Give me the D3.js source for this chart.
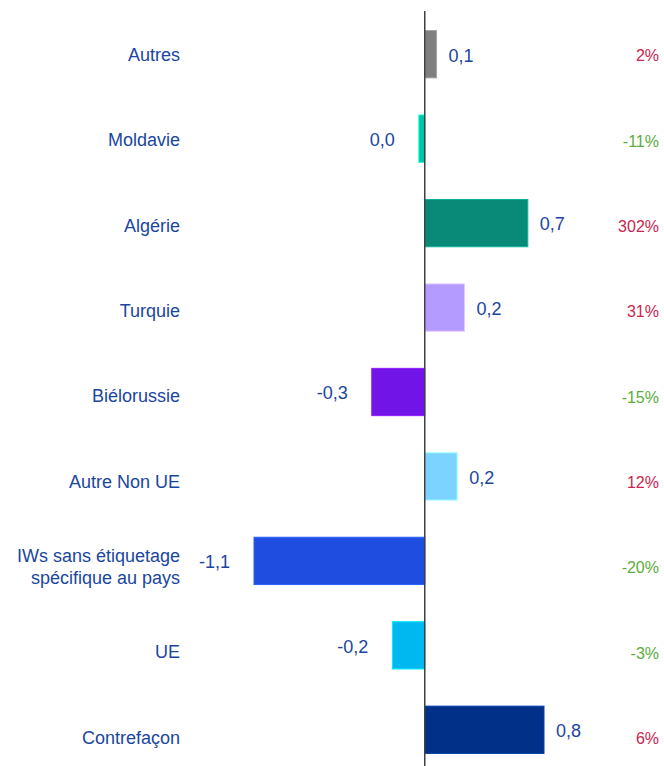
<!DOCTYPE html>
<html lang="fr">
<head>
<meta charset="utf-8" />
<title>Contributions</title>
<script src="https://d3js.org/d3.v7.min.js"></script>
<style>
  body { margin: 0; background: #fff; }
  text { font-family: "Liberation Sans", Arial, sans-serif; }
</style>
</head>
<body>
<div id="chart"></div>
<script>
// data
var categories = ["Autres", "Moldavie", "Algérie", "Turquie", "Biélorussie", "Autre Non UE",
  "IWs sans étiquetage|spécifique au pays", "UE", "Contrefaçon"];
var values = [0.08, -0.04, 0.70, 0.27, -0.36, 0.22, -1.16, -0.22, 0.81];
var valueLabels = ["0,1", "0,0", "0,7", "0,2", "-0,3", "0,2", "-1,1", "-0,2", "0,8"];
var pctLabels = ["2%", "-11%", "302%", "31%", "-15%", "12%", "-20%", "-3%", "6%"];
var barColors = ["#7f7f7f", "#00c4a7", "#098a79", "#b49bff", "#7014e8", "#7dd3ff", "#1f4de0", "#00b8f0", "#003087"];

var width = 664, height = 766;
var textBlue = "#1a46a0", red = "#c8254f", green = "#5aae3a";

var svg = d3.select("#chart").append("svg")
  .attr("width", width)
  .attr("height", height);

// scales
var x = d3.scaleLinear().domain([-1.16, 0.81]).range([254, 544]);
var y = d3.scaleBand().domain(categories).range([12, 772]).paddingInner(0.44).paddingOuter(0.22);
var yLab = d3.scaleBand().domain(categories).range([12, 780]);

// bars
svg.selectAll(".bar")
  .data(values)
  .enter()
  .append("rect")
  .attr("class", "bar")
  .attr("x", function (d) { return x(Math.min(0, d)); })
  .attr("y", function (d, i) { return y(categories[i]); })
  .attr("width", function (d) { return Math.abs(x(d) - x(0)); })
  .attr("height", y.bandwidth())
  .attr("fill", function (d, i) { return barColors[i]; })
  .attr("stroke", function (d, i) { return d3.color(barColors[i]).brighter(0.7); })
  .attr("stroke-width", 1);

// zero axis
svg.append("line")
  .attr("x1", x(0)).attr("x2", x(0))
  .attr("y1", 11).attr("y2", height)
  .attr("stroke", "#404040")
  .attr("stroke-width", 1.5);

// value labels
svg.selectAll(".val")
  .data(values)
  .enter()
  .append("text")
  .attr("class", "val")
  .attr("x", function (d) { return d >= 0 ? x(d) + 12 : x(d) - 24; })
  .attr("y", function (d, i) { return y(categories[i]) + y.bandwidth() / 2 + 1; })
  .attr("dy", "0.35em")
  .attr("text-anchor", function (d) { return d >= 0 ? "start" : "end"; })
  .attr("font-size", "18px")
  .attr("fill", textBlue)
  .text(function (d, i) { return valueLabels[i]; });

// category labels
var cat = svg.selectAll(".cat")
  .data(categories)
  .enter()
  .append("text")
  .attr("class", "cat")
  .attr("text-anchor", "end")
  .attr("font-size", "18px")
  .attr("fill", textBlue);

cat.each(function (d) {
  var lines = d.split("|");
  var cy = yLab(d) + yLab.bandwidth() / 2;
  var t = d3.select(this);
  lines.forEach(function (ln, k) {
    t.append("tspan")
      .attr("x", 180)
      .attr("y", cy + (k - (lines.length - 1) / 2) * 22)
      .attr("dy", "0.35em")
      .text(ln);
  });
});

// percent changes
svg.selectAll(".pct")
  .data(pctLabels)
  .enter()
  .append("text")
  .attr("class", "pct")
  .attr("x", 659)
  .attr("y", function (d, i) { return yLab(categories[i]) + yLab.bandwidth() / 2 + 1; })
  .attr("dy", "0.35em")
  .attr("text-anchor", "end")
  .attr("font-size", "16px")
  .attr("fill", function (d) { return d.charAt(0) === "-" ? green : red; })
  .text(function (d) { return d; });
</script>
</body>
</html>
